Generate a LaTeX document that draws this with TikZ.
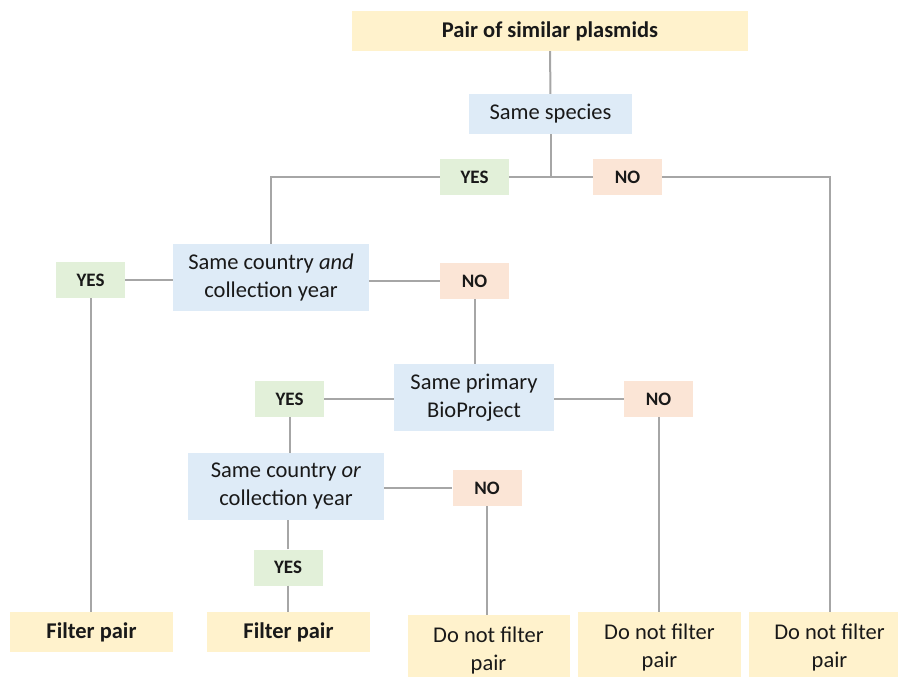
\documentclass[tikz,border=0pt]{standalone}
\usepackage{fontspec}
\setmainfont{Carlito}
\usepackage{tikz}
\definecolor{boxyellow}{HTML}{FFF2CC}
\definecolor{boxblue}{HTML}{DEEBF7}
\definecolor{boxgreen}{HTML}{E2F0D9}
\definecolor{boxred}{HTML}{FBE5D6}
\definecolor{linegray}{HTML}{A6A6A6}

\begin{document}
\begin{tikzpicture}[x=1pt,y=-1pt]
\tikzstyle{every node}+=[inner sep=0pt, align=center, text=black!90]
\tikzstyle{endbox}=[fill=boxyellow, minimum width=163pt, minimum height=40pt, font=\fontsize{22.5}{27}\selectfont\bfseries]
\tikzstyle{keepbox}=[fill=boxyellow, minimum width=162pt, minimum height=70pt, font=\fontsize{22.5}{28}\selectfont]
\tikzstyle{testbox}=[fill=boxblue, minimum width=196pt, minimum height=67pt, font=\fontsize{22.5}{28}\selectfont]
\tikzstyle{yesbox}=[fill=boxgreen, minimum width=69pt, minimum height=36pt, font=\fontsize{19}{22}\selectfont\bfseries]
\tikzstyle{nobox}=[fill=boxred, minimum width=69pt, minimum height=36pt, font=\fontsize{19}{22}\selectfont\bfseries]
\tikzstyle{link}=[draw=linegray, line width=2pt]
\useasboundingbox (0,0) rectangle (898,677);
\clip (0,0) rectangle (898,677);
\node [endbox, minimum width=396pt] (pair) at (550,31) {Pair of similar plasmids};
\node [testbox, minimum width=163pt, minimum height=40pt] (species) at (550.5,114) {Same species};
\node [yesbox] (yes1) at (474.5,177) {YES};
\node [nobox] (no1) at (627.5,177) {NO};
\node [testbox] (country1) at (271,277.5) {Same country \textit{and}\\collection year};
\node [yesbox] (yes2) at (90.5,280) {YES};
\node [nobox] (no2) at (474.5,281) {NO};
\node [testbox, minimum width=160pt] (project) at (474,397.5) {Same primary\\BioProject};
\node [yesbox] (yes3) at (289.5,399) {YES};
\node [nobox] (no3) at (658.5,399) {NO};
\node [testbox] (country2) at (286,486.5) {Same country \textit{or}\\collection year};
\node [nobox] (no4) at (487,488) {NO};
\node [yesbox] (yes4) at (288,567.5) {YES};
\node [endbox] (filter1) at (91.5,632) {Filter pair};
\node [endbox] (filter2) at (288.5,632) {Filter pair};
\node [keepbox] (keep1) at (488.5,650) {Do not filter\\pair};
\node [keepbox, minimum width=163pt] (keep2) at (659.5,647) {Do not filter\\pair};
\node [keepbox] (keep3) at (829.5,647) {Do not filter\\pair};
\coordinate (split) at (species |- yes1);
\draw [link] (pair) -- (species);
\draw [link] (species) -- (split);
\draw [link] (yes1) -- (split) -- (no1);
\draw [link] (yes1) -| (country1);
\draw [link] (no1) -| (keep3);
\draw [link] (yes2) -- (yes2 -| country1.west);
\draw [link] (country1.east |- no2) -- (no2);
\draw [link] (yes2) -- (yes2 |- filter1.north);
\draw [link] (no2) -- (no2 |- project.north);
\draw [link] (yes3) -- (yes3 -| project.west);
\draw [link] (project.east |- no3) -- (no3);
\draw [link] (yes3) -- (yes3 |- country2.north);
\draw [link] (no3) -- (no3 |- keep2.north);
\draw [link] (country2.east |- no4) -- (no4);
\draw [link] (yes4) -- (yes4 |- country2.south);
\draw [link] (yes4) -- (yes4 |- filter2.north);
\draw [link] (no4) -- (no4 |- keep1.north);
\end{tikzpicture}
\end{document}
